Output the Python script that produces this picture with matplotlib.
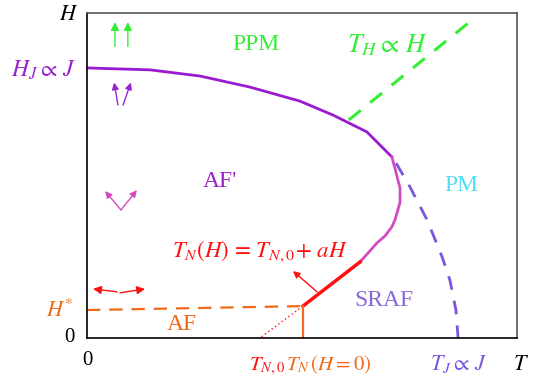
import matplotlib
matplotlib.use("Agg")
import matplotlib.pyplot as plt
from matplotlib.patches import FancyArrowPatch

plt.rcParams['font.family'] = ['Liberation Serif', 'DejaVu Serif']
plt.rcParams['mathtext.fontset'] = 'stix'

# --- data (T, H in arbitrary units 0..10) ---
upper_T = [0.00, 1.47, 2.63, 3.79, 4.95, 5.72, 6.51, 7.09]
upper_H = [8.31, 8.25, 8.06, 7.72, 7.29, 6.86, 6.34, 5.57]

nose_T = [7.09, 7.16, 7.23, 7.28, 7.28, 7.23, 7.16, 7.09, 6.93, 6.74, 6.56, 6.35]
nose_H = [5.57, 5.23, 4.86, 4.62, 4.18, 3.94, 3.63, 3.42, 3.14, 2.92, 2.65, 2.34]

tn_T = [6.35, 5.02]
tn_H = [2.34, 0.98]

tn0_T = [5.02, 4.02]
tn0_H = [0.98, 0.00]

tnz_T = [5.02, 5.02]
tnz_H = [0.98, 0.00]

hstar_T = [0.00, 4.95]
hstar_H = [0.86, 0.98]

th_T = [6.09, 8.95]
th_H = [6.71, 9.78]

tj_T = [7.19, 7.51, 7.91, 8.26, 8.44, 8.58, 8.63]
tj_H = [5.38, 4.65, 3.63, 2.49, 1.78, 0.86, 0.00]

fig = plt.figure(figsize=(5.33, 3.78), dpi=100)
ax = fig.add_axes([87/533, 40/378, 430/533, 325/378])
ax.set_xlim(0, 10)
ax.set_ylim(0, 10)
ax.set_xticks([])
ax.set_yticks([])
for s in ['top', 'right']:
    ax.spines[s].set_color('#555555')
for s in ['left', 'bottom']:
    ax.spines[s].set_color('black')
for s in ax.spines.values():
    s.set_linewidth(1.2)

purple = '#9a1ad0'
magenta = '#d24cc0'
red = '#ff1010'
orange = '#f06818'
green = '#33ee33'
violet = '#7a55dd'

ax.plot(upper_T, upper_H, color=purple, lw=2)
ax.plot(nose_T, nose_H, color=magenta, lw=2)
ax.plot(tn_T, tn_H, color=red, lw=2.5)
ax.plot(tn0_T, tn0_H, color=red, lw=1, ls=(0, (1, 2)))
ax.plot(tnz_T, tnz_H, color=orange, lw=1.6)
ax.plot(hstar_T, hstar_H, color=orange, lw=1.6, ls=(0, (6, 4)))
ax.plot(th_T, th_H, color=green, lw=2.2, ls=(0, (5, 4)))
ax.plot(tj_T, tj_H, color=violet, lw=2, ls=(0, (5, 4)))

def arrow(x0, y0, x1, y1, c, ms=10):
    a = FancyArrowPatch((x0, y0), (x1, y1), arrowstyle='-|>', mutation_scale=ms,
                        color=c, lw=1, shrinkA=0, shrinkB=0, clip_on=False)
    ax.add_patch(a)

# spin arrows
arrow(0.65, 8.97, 0.65, 9.72, green, 12)
arrow(0.95, 8.97, 0.95, 9.72, green, 12)
arrow(0.72, 7.17, 0.63, 7.86, '#9a22cc', 10)
arrow(0.84, 7.17, 1.02, 7.86, '#9a22cc', 10)
arrow(0.79, 3.94, 0.42, 4.52, magenta, 10)
arrow(0.79, 3.94, 1.16, 4.55, magenta, 10)
arrow(0.70, 1.42, 0.14, 1.51, red, 12)
arrow(0.77, 1.39, 1.35, 1.51, red, 12)
arrow(5.35, 1.42, 4.79, 2.06, red, 10)

tk = dict(ha='center', va='center', clip_on=False)
tb = dict(ha='center', va='baseline', clip_on=False)
ax.text(3.93, 9.02, 'PPM', color=green, fontsize=17, **tk)
ax.text(6.98, 8.80, r'$T_H \propto\, H$', color=green, fontsize=19, **tb)
ax.text(3.09, 4.83, "AF'", color='#9a22cc', fontsize=17, **tk)
ax.text(8.70, 4.68, 'PM', color='#55ddf8', fontsize=17, **tk)
ax.text(4.02, 2.49, r'$T_N(H)\, =\, T_{N,0}\! +\, aH$', color=red, fontsize=16.5, **tb)
ax.text(6.91, 1.14, 'SRAF', color='#8a66dd', fontsize=17, **tk)
ax.text(2.21, 0.43, 'AF', color=orange, fontsize=17, **tk)

# axis labels
ax.text(-0.42, 9.78, r'$H$', color='black', fontsize=16, **tb)
ax.text(10.09, -0.98, r'$T$', color='black', fontsize=16, **tb)
ax.text(-0.40, 0.0, '0', color='black', fontsize=15, **tk)
ax.text(0.02, -0.68, '0', color='black', fontsize=15, **tk)
ax.text(-1.01, 8.03, r'$H_J \propto\, J$', color='#9a22cc', fontsize=17, **tb)
ax.text(-0.63, 0.65, r'$H^{*}$', color=orange, fontsize=16, **tb)
ax.text(4.18, -0.98, r'$T_{N,0}$', color=red, fontsize=15, **tb)
ax.text(5.62, -0.98, r'$T_N\,(H{=}0)$', color=orange, fontsize=15, **tb)
ax.text(8.65, -0.98, r'$T_J \propto\, J$', color=violet, fontsize=16, **tb)

fig.savefig('out.png', dpi=100)
